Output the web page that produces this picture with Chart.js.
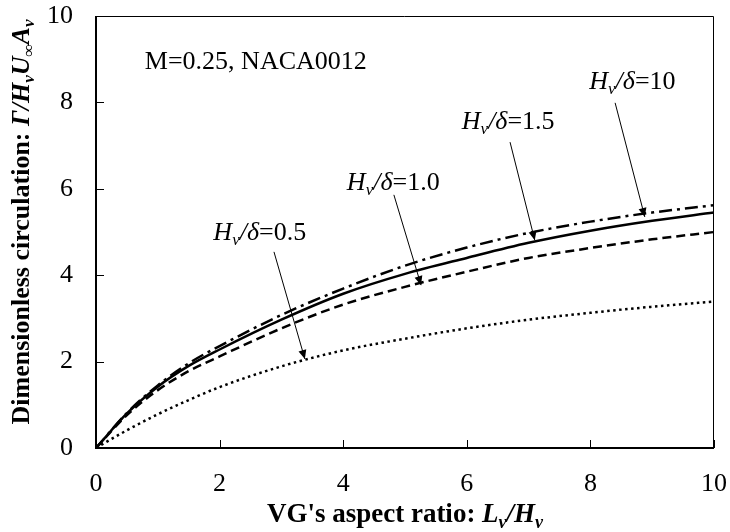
<!DOCTYPE html>
<html>
<head>
<meta charset="utf-8">
<script src="https://cdn.jsdelivr.net/npm/chart.js@4"></script>
<style>
  html, body { margin: 0; padding: 0; background: #fff; }
  #wrap { width: 730px; height: 532px; }
</style>
</head>
<body>
<div id="wrap"><canvas id="myChart" width="730" height="532"></canvas></div>
<script>
// aspect ratio Lv/Hv
const aspectRatio = [0, 0.5, 1, 1.5, 2, 3, 4, 5, 6, 7, 8, 9, 10];
// dimensionless circulation for each Hv/delta
const hd05 = [0, 0.41, 0.78, 1.11, 1.41, 1.89, 2.26, 2.53, 2.77, 2.97, 3.13, 3.27, 3.39];
const hd10 = [0, 0.76, 1.34, 1.78, 2.12, 2.77, 3.32, 3.73, 4.08, 4.40, 4.63, 4.83, 5.00];
const hd15 = [0, 0.80, 1.42, 1.90, 2.28, 2.97, 3.57, 4.03, 4.40, 4.75, 5.03, 5.26, 5.45];
const hd100 = [0, 0.81, 1.45, 1.96, 2.36, 3.08, 3.69, 4.22, 4.64, 4.98, 5.24, 5.45, 5.62];
const seriesNames = ['Hv/δ=0.5', 'Hv/δ=1.0', 'Hv/δ=1.5', 'Hv/δ=10'];
const xTicks = [0, 2, 4, 6, 8, 10];
const yTicks = [0, 2, 4, 6, 8, 10];

// label text at [x, y], arrow from [x, y] to [x, y], all in data units
const notes = [
  { val: '=0.5', at: [2.65, 4.98], from: [2.88, 4.54], to: [3.38, 2.06] },
  { val: '=1.0', at: [4.81, 6.13], from: [4.82, 5.86], to: [5.26, 3.77] },
  { val: '=1.5', at: [6.67, 7.55], from: [6.70, 7.08], to: [7.10, 4.81] },
  { val: '=10',  at: [8.68, 8.47], from: [8.40, 7.99], to: [8.88, 5.35] }
];

const serif = '"Liberation Serif", "Times New Roman", serif';

function pts(ys) {
  return aspectRatio.map((x, i) => ({ x: x, y: ys[i] }));
}

function fontFor(style, size) {
  return (style ? style + ' ' : '') + size + 'px ' + serif;
}

// parts: [text, style, isSub]
function drawRich(ctx, parts, x, y, size, align) {
  let w = 0;
  parts.forEach(p => {
    ctx.font = fontFor(p[1], p[2] ? Math.round(size * 0.65) : size);
    w += ctx.measureText(p[0]).width;
  });
  let cx = align === 'center' ? x - w / 2 : x;
  ctx.textAlign = 'left';
  ctx.textBaseline = 'middle';
  parts.forEach(p => {
    const s = p[2] ? Math.round(size * 0.65) : size;
    ctx.font = fontFor(p[1], s);
    ctx.fillText(p[0], cx, p[2] ? y + size * 0.3 : y);
    cx += ctx.measureText(p[0]).width;
  });
}

function arrow(ctx, x1, y1, x2, y2) {
  ctx.beginPath();
  ctx.moveTo(x1, y1);
  ctx.lineTo(x2, y2);
  ctx.lineWidth = 1;
  ctx.stroke();
  const a = Math.atan2(y2 - y1, x2 - x1);
  const len = 9, half = 4;
  ctx.beginPath();
  ctx.moveTo(x2, y2);
  ctx.lineTo(x2 - len * Math.cos(a) + half * Math.sin(a), y2 - len * Math.sin(a) - half * Math.cos(a));
  ctx.lineTo(x2 - len * Math.cos(a) - half * Math.sin(a), y2 - len * Math.sin(a) + half * Math.cos(a));
  ctx.closePath();
  ctx.fill();
}

const decor = {
  id: 'decor',
  afterDraw(chart) {
    const ctx = chart.ctx;
    const xs = chart.scales.x, ys = chart.scales.y;
    const a = chart.chartArea;
    ctx.save();
    ctx.strokeStyle = '#000';
    ctx.fillStyle = '#000';

    // frame
    ctx.lineWidth = 1;
    ctx.beginPath();
    ctx.moveTo(a.left, a.top + 0.5);
    ctx.lineTo(a.right - 0.5, a.top + 0.5);
    ctx.lineTo(a.right - 0.5, a.bottom);
    ctx.stroke();
    ctx.lineWidth = 2;
    ctx.beginPath();
    ctx.moveTo(a.left, a.top);
    ctx.lineTo(a.left, a.bottom);
    ctx.lineTo(a.right, a.bottom);
    ctx.stroke();

    // inside ticks
    ctx.lineWidth = 1;
    xTicks.forEach(v => {
      const px = Math.round(xs.getPixelForValue(v)) + 0.5;
      ctx.beginPath();
      ctx.moveTo(px, a.bottom);
      ctx.lineTo(px, a.bottom - 8);
      ctx.stroke();
    });
    yTicks.forEach(v => {
      const py = Math.round(ys.getPixelForValue(v)) + 0.5;
      ctx.beginPath();
      ctx.moveTo(a.left, py);
      ctx.lineTo(a.left + 8, py);
      ctx.stroke();
    });

    // annotations
    notes.forEach(n => {
      drawRich(ctx, [['H', 'italic'], ['v', 'italic', true], ['/δ', 'italic'], [n.val, '']],
        xs.getPixelForValue(n.at[0]), ys.getPixelForValue(n.at[1]), 26, 'center');
      arrow(ctx, xs.getPixelForValue(n.from[0]), ys.getPixelForValue(n.from[1]),
        xs.getPixelForValue(n.to[0]), ys.getPixelForValue(n.to[1]));
    });
    drawRich(ctx, [['M=0.25, NACA0012', '']], xs.getPixelForValue(0.79), ys.getPixelForValue(8.94), 26, 'left');

    // axis titles
    drawRich(ctx, [["VG's aspect ratio: ", 'bold'], ['L', 'bold italic'], ['v', 'bold italic', true],
      ['/H', 'bold italic'], ['v', 'bold italic', true]], (a.left + a.right) / 2, 515, 27, 'center');
    ctx.translate(22, 222);
    ctx.rotate(-Math.PI / 2);
    drawRich(ctx, [['Dimensionless circulation: ', 'bold'], ['Γ/H', 'bold italic'], ['v', 'bold italic', true],
      ['U', 'bold italic'], ['∞', 'bold', true], ['A', 'bold italic'], ['v', 'bold italic', true]],
      0, 0, 26, 'center');
    ctx.restore();
  }
};

const line = (label, ys, dash) => ({
  label: label,
  data: pts(ys),
  borderColor: '#000',
  borderWidth: 2.5,
  borderDash: dash,
  pointRadius: 0,
  cubicInterpolationMode: 'monotone',
  fill: false
});

const getChart = document.getElementById('myChart').getContext('2d');
const mychart = new Chart(getChart, {
  type: 'line',
  data: {
    datasets: [
      line(seriesNames[0], hd05, [2.5, 3.5]),
      line(seriesNames[1], hd10, [9, 5]),
      line(seriesNames[2], hd15, []),
      line(seriesNames[3], hd100, [13, 5, 3, 5])
    ]
  },
  options: {
    responsive: false,
    animation: false,
    devicePixelRatio: 1,
    layout: { padding: { left: 0, top: 16, right: 16, bottom: 0 } },
    plugins: { legend: { display: false }, tooltip: { enabled: false } },
    scales: {
      x: {
        type: 'linear',
        min: 0, max: 10,
        afterBuildTicks: s => { s.ticks = xTicks.map(v => ({ value: v })); },
        afterFit: s => { s.height = 84; s.paddingLeft = 0; s.paddingRight = 0; },
        grid: { display: false, drawTicks: false },
        border: { display: false },
        ticks: { color: '#000', padding: 21, maxRotation: 0, font: { family: serif, size: 26 } }
      },
      y: {
        type: 'linear',
        min: 0, max: 10,
        afterBuildTicks: s => { s.ticks = yTicks.map(v => ({ value: v })); },
        afterFit: s => { s.width = 96; s.paddingTop = 0; s.paddingBottom = 0; },
        grid: { display: false, drawTicks: false },
        border: { display: false },
        ticks: { color: '#000', padding: 23, font: { family: serif, size: 26 } }
      }
    }
  },
  plugins: [decor]
});
</script>
</body>
</html>
